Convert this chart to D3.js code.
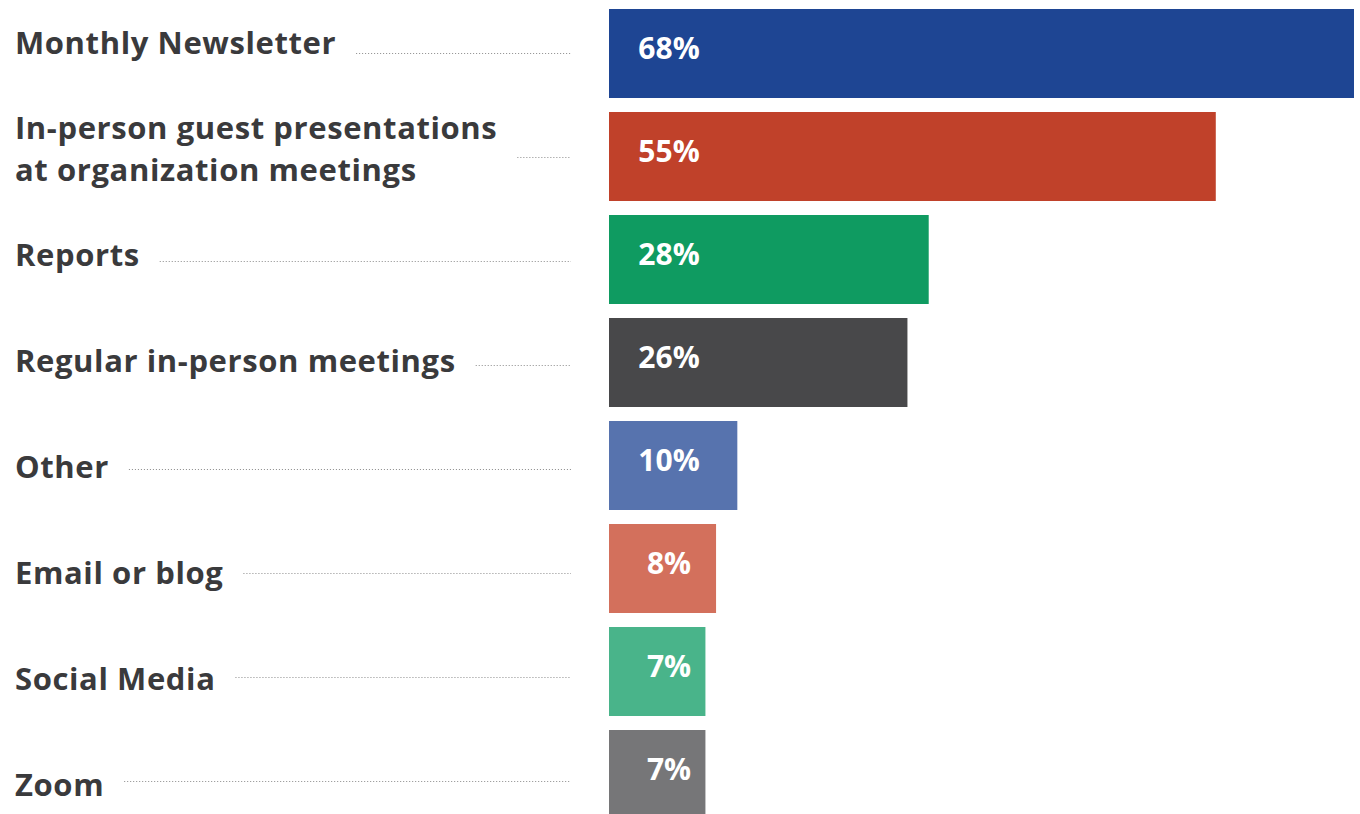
<!DOCTYPE html>
<html>
<head>
<meta charset="utf-8">
<script src="https://cdn.jsdelivr.net/npm/d3@7"></script>
<style>
  html, body { margin: 0; padding: 0; background: #ffffff; overflow: hidden; }
  svg { display: block; }
</style>
</head>
<body>
<svg id="chart" width="1360" height="814"></svg>
<script>
// ---- data ----
const categories = [
  "Monthly Newsletter",
  "In-person guest presentations|at organization meetings",
  "Reports",
  "Regular in-person meetings",
  "Other",
  "Email or blog",
  "Social Media",
  "Zoom"
];
const values = [68, 55, 28, 26, 10, 8, 7, 7];
const valueLabels = ["68%", "55%", "28%", "26%", "10%", "8%", "7%", "7%"];
const barColors = ["#1e4593", "#c0412a", "#0f9b61", "#48484a", "#5773ae", "#d3705c", "#49b48a", "#767678"];

// ---- layout ----
const W = 1360, H = 814;
const barX0 = 609;
const svg = d3.select("#chart");

const y = d3.scaleBand()
  .domain(categories)
  .range([9, 819])
  .paddingInner(14 / 103)
  .paddingOuter(0);

// label rows and leader rows follow their own slightly different spacing
const yLabel = d3.scalePoint().domain(categories).range([54, 796]);
const yLeader = d3.scalePoint().domain(categories).range([53, 781]);

// bar length scale (with a minimum stub so labels fit inside short bars)
const x = d3.scaleLinear().domain([0, 68]).range([22, 745]);

// bars
svg.append("g").selectAll("rect")
  .data(categories)
  .join("rect")
  .attr("x", barX0)
  .attr("y", d => y(d))
  .attr("width", (d, i) => x(values[i]))
  .attr("height", y.bandwidth())
  .attr("fill", (d, i) => barColors[i]);

// value labels
svg.append("g").selectAll("text")
  .data(categories)
  .join("text")
  .attr("x", barX0 + 60)
  .attr("y", d => y(d) + y.bandwidth() / 2 + 5)
  .attr("text-anchor", "middle")
  .attr("fill", "#ffffff")
  .attr("font-family", "'Open Sans', sans-serif")
  .attr("font-weight", 700)
  .attr("font-size", 30)
  .text((d, i) => valueLabels[i]);

// category labels + leaders
const labelG = svg.append("g");
categories.forEach((c, i) => {
  const lines = c.split("|");
  const cy = yLabel(c);
  const lineH = 42;
  const t = labelG.append("text")
    .attr("x", 15)
    .attr("fill", "#3a3a3c")
    .attr("font-family", "'Open Sans', sans-serif")
    .attr("font-weight", 700)
    .attr("font-size", 31)
    .attr("letter-spacing", 0.6);
  lines.forEach((ln, j) => {
    t.append("tspan")
      .attr("x", 15)
      .attr("y", cy - (lines.length - 1) * lineH / 2 + j * lineH)
      .text(ln);
  });
  const bb = t.node().getBBox();
  const lx = yLeader(c);
  labelG.append("line")
    .attr("x1", bb.x + bb.width + 20)
    .attr("x2", 571)
    .attr("y1", lx + 0.5)
    .attr("y2", lx + 0.5)
    .attr("stroke", "#8a8a8a")
    .attr("stroke-width", 1)
    .attr("stroke-dasharray", "1,2");
});
</script>
</body>
</html>
